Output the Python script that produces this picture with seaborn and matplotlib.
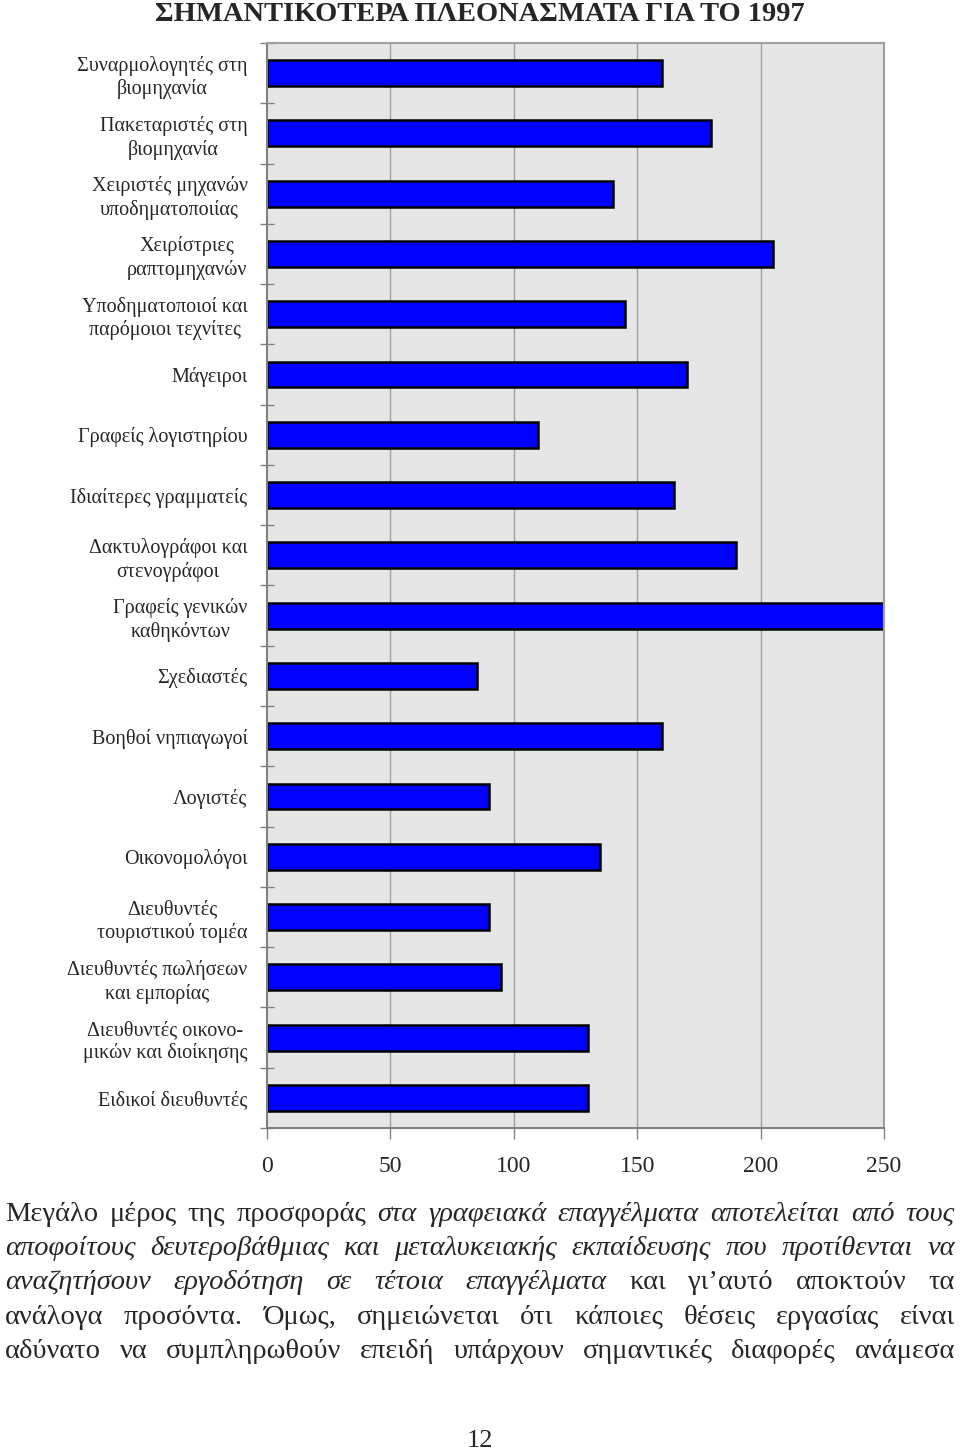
import matplotlib
matplotlib.use("Agg")
import matplotlib.pyplot as plt
import seaborn as sns
import numpy as np
import pandas as pd

title = "ΣΗΜΑΝΤΙΚΟΤΕΡΑ ΠΛΕΟΝΑΣΜΑΤΑ ΓΙΑ ΤΟ 1997"
categories = [
    "Συναρμολογητές στη\nβιομηχανία",
    "Πακεταριστές στη\nβιομηχανία",
    "Χειριστές μηχανών\nυποδηματοποιίας",
    "Χειρίστριες\nραπτομηχανών",
    "Υποδηματοποιοί και\nπαρόμοιοι τεχνίτες",
    "Μάγειροι",
    "Γραφείς λογιστηρίου",
    "Ιδιαίτερες γραμματείς",
    "Δακτυλογράφοι και\nστενογράφοι",
    "Γραφείς γενικών\nκαθηκόντων",
    "Σχεδιαστές",
    "Βοηθοί νηπιαγωγοί",
    "Λογιστές",
    "Οικονομολόγοι",
    "Διευθυντές\nτουριστικού τομέα",
    "Διευθυντές πωλήσεων\nκαι εμπορίας",
    "Διευθυντές οικονο-\nμικών και διοίκησης",
    "Ειδικοί διευθυντές",
]
values = [160, 180, 140, 205, 145, 170, 110, 165, 190, 250,
          85, 160, 90, 135, 90, 95, 130, 130]
x_ticks = [0, 50, 100, 150, 200, 250]

# paragraph lines: list of (text, italic) segments
para_lines = [
    [("Μεγάλο μέρος της προσφοράς", False),
     ("στα γραφειακά επαγγέλματα αποτελείται από τους", True)],
    [("αποφοίτους δευτεροβάθμιας και μεταλυκειακής εκπαίδευσης που προτίθενται να", True)],
    [("αναζητήσουν εργοδότηση σε τέτοια επαγγέλματα", True),
     ("και γι’αυτό αποκτούν τα", False)],
    [("ανάλογα προσόντα. Όμως, σημειώνεται ότι κάποιες θέσεις εργασίας είναι", False)],
    [("αδύνατο να συμπληρωθούν επειδή υπάρχουν σημαντικές διαφορές ανάμεσα", False)],
]
page_number = "12"

sns.set_theme(style="white")
plt.rcParams["font.family"] = ["Liberation Serif", "DejaVu Serif"]

W, H = 960, 1450
fig = plt.figure(figsize=(9.6, 14.5), dpi=100)
ax = fig.add_axes([267 / W, 1 - 1128 / H, (884 - 267) / W, (1128 - 43) / H])

df = pd.DataFrame({"cat": categories, "val": values})
sns.barplot(data=df, x="val", y="cat", orient="h", color="#0000ff",
            saturation=1, edgecolor="black", linewidth=1.8, width=0.43, ax=ax)

ax.set_facecolor("#e6e6e6")
ax.set_xlim(0, 250)
ax.set_ylim(len(categories) - 0.5, -0.5)
ax.set_xticks(x_ticks)
ax.set_xticklabels([str(t) for t in x_ticks], fontsize=17)
ax.set_xlabel("")
ax.set_ylabel("")
for t in x_ticks[1:-1]:
    ax.axvline(t, color="#a0a0a0", lw=1.0, zorder=0)
ax.set_axisbelow(True)
ax.tick_params(axis="x", direction="out", length=8, width=1, color="#808080",
               pad=12, bottom=True)
ax.tick_params(axis="y", which="major", length=0, pad=14)
ax.set_yticks(np.arange(-0.5, len(categories), 1.0), minor=True)
ax.tick_params(axis="y", which="minor", direction="inout", length=10, width=1,
               color="#808080", left=True)
for lbl in ax.get_yticklabels():
    lbl.set_fontsize(14.5)
    lbl.set_multialignment("center")
    lbl.set_linespacing(1.25)
for s in ["top", "right"]:
    ax.spines[s].set_color("#a0a0a0")
    ax.spines[s].set_linewidth(1.5)
for s in ["left", "bottom"]:
    ax.spines[s].set_color("#808080")
    ax.spines[s].set_linewidth(1.5)

fig.text(480 / W, 1 - 21 / H, title, ha="center", va="baseline",
         fontsize=20.5, fontweight="bold")

# justified paragraph
fig.canvas.draw()
renderer = fig.canvas.get_renderer()
left_px, right_px = 5, 955
baselines = [1221, 1255, 1289, 1324, 1358]
fs = 20.5
for line, base in zip(para_lines, baselines):
    words = []
    for seg, ital in line:
        for w in seg.split(" "):
            words.append((w, ital))
    objs = []
    widths = []
    for w, ital in words:
        t = fig.text(0, 1 - base / H, w, fontsize=fs, va="baseline", ha="left",
                     style="italic" if ital else "normal")
        bb = t.get_window_extent(renderer=renderer)
        objs.append(t)
        widths.append(bb.width)
    gap = (right_px - left_px - sum(widths)) / (len(words) - 1)
    x = left_px
    for t, wd in zip(objs, widths):
        t.set_x(x / W)
        x += wd + gap

fig.text(480 / W, 1 - 1447 / H, page_number, ha="center", va="baseline",
         fontsize=19)

fig.savefig("out.png", dpi=100)
